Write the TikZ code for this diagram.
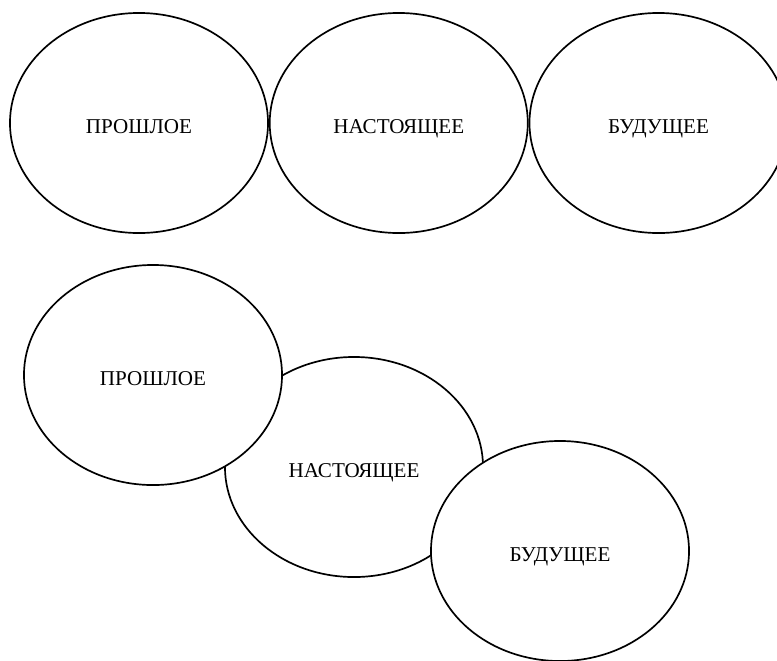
\documentclass[tikz,border=0pt]{standalone}
\usepackage{fontspec}
\setmainfont{Liberation Serif}
\usetikzlibrary{shapes.geometric, positioning}

\begin{document}
\begin{tikzpicture}[
    x=0.025cm, y=-0.025cm,
    every node/.style={ellipse, draw, line width=1.2pt, fill=white, minimum width=6.45cm, minimum height=5.5cm, inner sep=0pt, text height=15.6pt, text depth=0pt, font=\fontsize{15}{18}\selectfont}
]
\useasboundingbox (0,0) rectangle (777,660);
\clip (0,0) rectangle (777,660);
% Top row
\node (past1) at (139,123) {ПРОШЛОЕ};
\node[right=0pt of past1] (present1) {НАСТОЯЩЕЕ};
\node[right=0pt of present1] (future1) {БУДУЩЕЕ};

% Bottom row
\node (present2) at (354,467) {НАСТОЯЩЕЕ};
\node (past2) at (153,375) {ПРОШЛОЕ};
\node (future2) at (560,551) {БУДУЩЕЕ};
\end{tikzpicture}
\end{document}
